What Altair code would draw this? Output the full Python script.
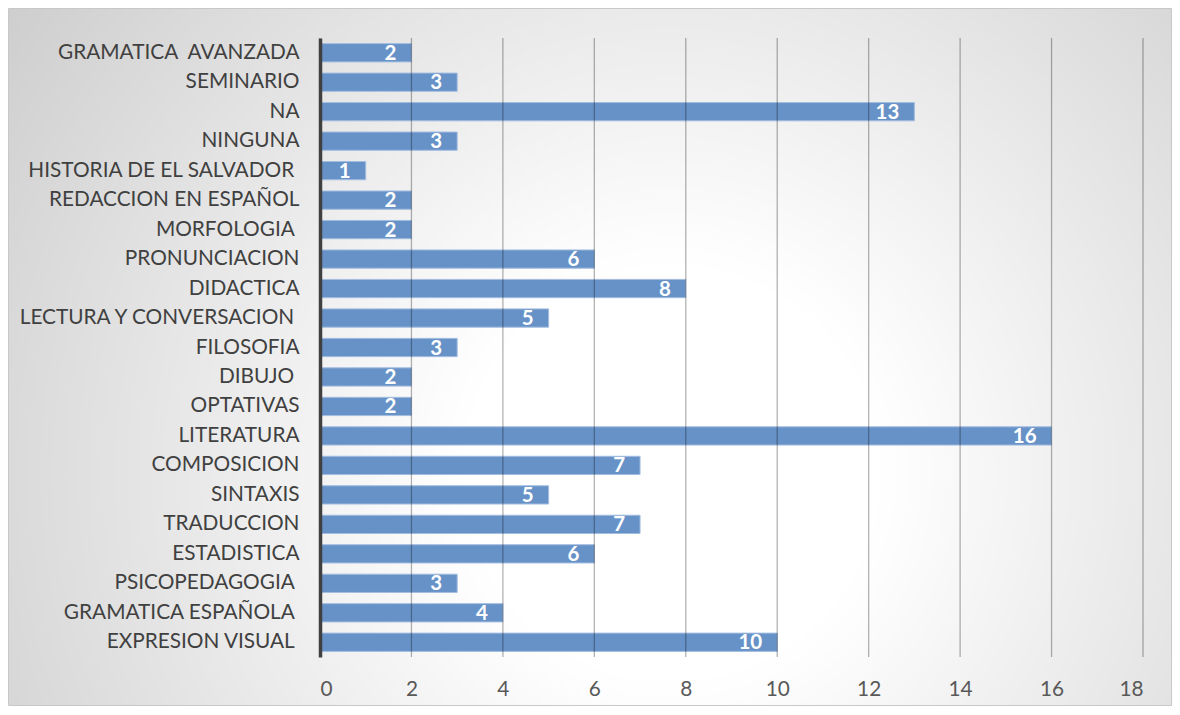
import altair as alt
import pandas as pd

SP = "\u00a0\u2060"  # trailing space kept visible

categories = [
    "GRAMATICA\u00a0 AVANZADA",
    "SEMINARIO",
    "NA",
    "NINGUNA",
    "HISTORIA DE EL SALVADOR" + SP,
    "REDACCION EN ESPAÑOL",
    "MORFOLOGIA" + SP,
    "PRONUNCIACION",
    "DIDACTICA",
    "LECTURA Y CONVERSACION" + SP,
    "FILOSOFIA",
    "DIBUJO" + SP,
    "OPTATIVAS",
    "LITERATURA",
    "COMPOSICION",
    "SINTAXIS",
    "TRADUCCION",
    "ESTADISTICA",
    "PSICOPEDAGOGIA" + SP,
    "GRAMATICA ESPAÑOLA" + SP,
    "EXPRESION VISUAL" + SP,
]
values = [2, 3, 13, 3, 1, 2, 2, 6, 8, 5, 3, 2, 2, 16, 7, 5, 7, 6, 3, 4, 10]
x_ticks = [0, 2, 4, 6, 8, 10, 12, 14, 16, 18]

W, H = 823, 619
PAD = {"left": 312, "top": 30, "right": 29, "bottom": 49}
FONT = "Lato"

df = pd.DataFrame({"cat": categories, "val": values})
ticks_df = pd.DataFrame({"t": x_ticks})

xscale = alt.Scale(domain=[0, 18], nice=False, zero=True)
yscale = alt.Scale(paddingInner=0.38, paddingOuter=0.19)

bg = alt.Chart(pd.DataFrame({"a": [0]})).mark_rect(
    fill=alt.RadialGradient(
        gradient="radial",
        stops=[
            alt.GradientStop(offset=0, color="#ffffff"),
            alt.GradientStop(offset=0.22, color="#ffffff"),
            alt.GradientStop(offset=1, color="#c4c4c4"),
        ],
        x1=0.57, y1=0.6, r1=0, x2=0.57, y2=0.6, r2=0.8,
    ),
    stroke="#c8c8c8",
    strokeWidth=1,
).encode(
    x=alt.value(-PAD["left"] + 0.5),
    x2=alt.value(W + PAD["right"] - 0.5),
    y=alt.value(-PAD["top"] + 0.5),
    y2=alt.value(H + PAD["bottom"] - 0.5),
)

bars = alt.Chart(df).mark_bar(
    color="#6792c7", stroke="#a3bde0", strokeWidth=1
).encode(
    y=alt.Y("cat:N", sort=categories, scale=yscale,
            axis=alt.Axis(title=None, ticks=False, domain=True, domainColor="#404040",
                          domainWidth=3.5, labelFont=FONT, labelFontSize=20.8,
                          labelColor="#404040", labelPadding=21, labelLimit=0,
                          grid=False, zindex=1)),
    x=alt.X("val:Q", scale=xscale,
            axis=alt.Axis(title=None, values=x_ticks, ticks=False, domain=False,
                          grid=False, labelFont=FONT, labelFontSize=20.8,
                          labelColor="#595959", labelPadding=22, zindex=1)),
)

grid = alt.Chart(ticks_df).mark_rule(color="#000000", opacity=0.3, strokeWidth=1.3).encode(
    x=alt.X("t:Q", scale=xscale),
    y=alt.value(0),
    y2=alt.value(H),
)

labels = alt.Chart(df).mark_text(
    align="right", baseline="middle", dx=-15, dy=1,
    font=FONT, fontSize=20.5, fontWeight="bold", color="#ffffff",
).encode(
    y=alt.Y("cat:N", sort=categories, scale=yscale),
    x=alt.X("val:Q", scale=xscale),
    text=alt.Text("val:Q"),
)

chart = alt.layer(bg, bars, grid, labels).properties(
    width=W, height=H,
    autosize=alt.AutoSizeParams(type="none"),
    padding=PAD,
    background="#ffffff",
).configure_view(stroke=None)

chart.save("out.html", embed_options={"renderer": "svg", "actions": False})
